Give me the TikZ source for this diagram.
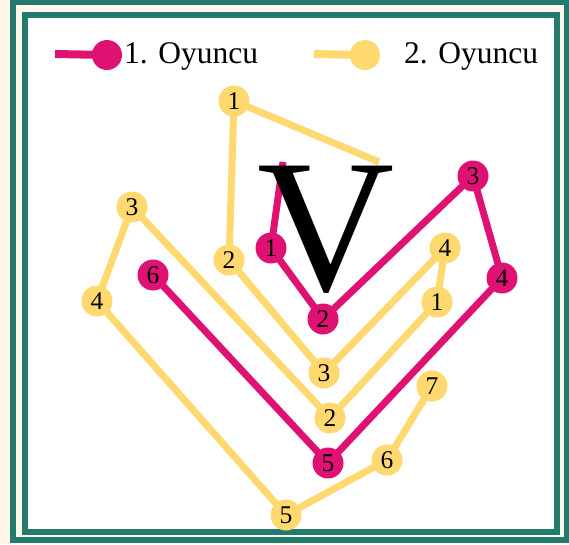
\documentclass[tikz,border=0pt]{standalone}
\usepackage{fontspec}
\setmainfont{Liberation Serif}
\definecolor{teal0}{HTML}{237B6F}
\definecolor{cream}{HTML}{FFF7EA}
\definecolor{mag}{HTML}{DF1273}
\definecolor{yel}{HTML}{FFD96F}
\pgfdeclarelayer{frame}
\pgfdeclarelayer{edges}
\pgfdeclarelayer{front}
\pgfsetlayers{frame,edges,main,front}
\tikzset{
  pone/.style={circle,fill=mag,minimum size=31pt,inner sep=0pt,font=\fontsize{25.5}{25.5}\selectfont},
  ptwo/.style={circle,fill=yel,minimum size=31pt,inner sep=0pt,font=\fontsize{25.5}{25.5}\selectfont},
  oneline/.style={draw=mag,line width=7pt},
  twoline/.style={draw=yel,line width=7pt},
  legtext/.style={anchor=base west,inner sep=0pt,font=\fontsize{31.5}{31.5}\selectfont},
}
\begin{document}
\begin{tikzpicture}[x=1pt,y=-1pt]
\useasboundingbox (0,0) rectangle (569,544);
\begin{pgfonlayer}{frame}
\fill[cream] (0,0) rectangle (569,544);
\draw[teal0,line width=6pt] (13,2) rectangle (567,540);
\fill[white] (22,12) rectangle (560,535);
\draw[teal0,line width=6pt] (25,15) rectangle (557,532);
\end{pgfonlayer}
% legend
\node[circle,fill=mag,minimum size=30pt,inner sep=0pt] (l1) at (107,55) {};
\coordinate (l1s) at (55,54);
\node[circle,fill=yel,minimum size=30pt,inner sep=0pt] (l2) at (365,55) {};
\coordinate (l2s) at (314,54);
\begin{pgfonlayer}{edges}
\draw[draw=mag,line width=8pt] (l1s) -- (l1.center);
\draw[draw=yel,line width=8pt] (l2s) -- (l2.center);
\end{pgfonlayer}
\node[legtext] (t1) at (124,63) {1. Oyuncu};
\node[legtext] (t2) at (404,63) {2. Oyuncu};
% player 2 nodes
\coordinate (ys) at (379,162);
\node[ptwo] (y1) at (234,101) {1};
\node[ptwo] (y2) at (229,260) {2};
\node[ptwo] (y3) at (324,373) {3};
\node[ptwo] (y4) at (445,248) {4};
\node[ptwo] (y5) at (437,302) {1};
\node[ptwo] (y6) at (330,418) {2};
\node[ptwo] (y7) at (132,207) {3};
\node[ptwo] (y8) at (97,301) {4};
\node[ptwo] (y9) at (286,515) {5};
\node[ptwo] (y10) at (387,460) {6};
\node[ptwo] (y11) at (432,386) {7};
% player 1 nodes
\coordinate (ms) at (283,162);
\node[pone] (m1) at (271,248) {1};
\node[pone] (m2) at (323,319) {2};
\node[pone] (m3) at (473,176) {3};
\node[pone] (m4) at (502,278) {4};
\node[pone] (m5) at (328,463) {5};
\node[pone] (m6) at (153,275) {6};
\begin{pgfonlayer}{edges}
\draw[twoline] (ys) -- (y1.center) -- (y2.center) -- (y3.center) -- (y4.center) -- (y5.center) -- (y6.center) -- (y7.center) -- (y8.center) -- (y9.center) -- (y10.center) -- (y11.center);
\draw[oneline] (ms) -- (m1.center) -- (m2.center) -- (m3.center) -- (m4.center) -- (m5.center) -- (m6.center);
\end{pgfonlayer}
\begin{pgfonlayer}{front}
\node[anchor=base,inner sep=0pt,font=\fontsize{190}{190}\selectfont] (bigv) at (326,290) {V};
\end{pgfonlayer}
\end{tikzpicture}
\end{document}
